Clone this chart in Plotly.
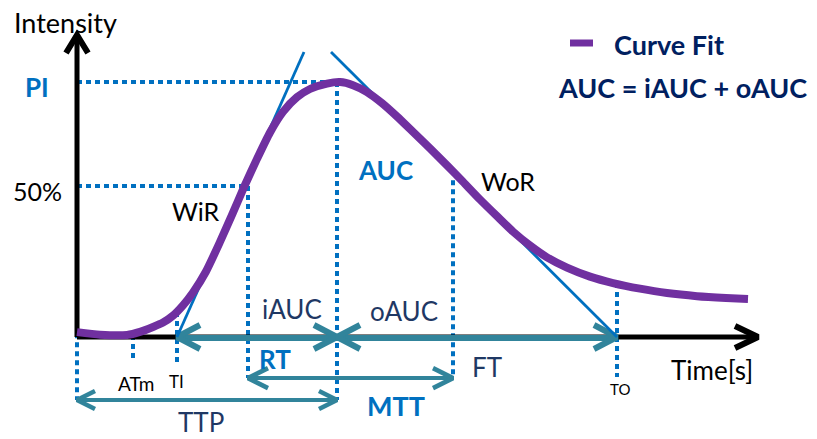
import plotly.graph_objects as go

# ---------------- data (time in s, intensity in a.u., PI ~ 100) ----------------
curve_t = [0.0, 2.3, 5.0, 6.3, 7.6, 8.6, 9.6, 10.6, 11.6, 12.9, 14.3, 15.5, 16.7, 18.0, 19.3,
           20.6, 22.0, 23.3, 25.0, 26.3, 27.6, 29.0, 30.5, 32.0, 33.6, 35.3, 37.0, 38.6, 40.3,
           42.0, 43.6, 45.3, 47.0, 49.0, 51.3, 53.6, 56.3, 59.0, 62.0, 64.9, 67.1]
curve_I = [1.9, 0.9, 0.8, 2.0, 3.9, 5.6, 8.3, 12.3, 17.3, 25.5, 37.0, 47.5, 58.3, 69.3, 79.6,
           87.6, 93.3, 96.5, 98.6, 99.2, 98.0, 95.3, 91.0, 85.8, 79.8, 73.4, 66.8, 60.4, 53.5,
           47.0, 41.0, 35.6, 31.0, 27.0, 23.5, 21.0, 18.8, 17.1, 15.9, 15.2, 14.8]

time_names = ["ATm", "TI", "T50", "TTP", "TWoR", "TO", "TEND"]
time_vals = [5.6, 10.0, 17.1, 26.0, 37.6, 54.0, 68.1]
T = dict(zip(time_names, time_vals))

int_names = ["PI", "I50", "IWoR", "ITO", "ITI", "IATm", "I0"]
int_vals = [99.2, 58.8, 61.0, 21.0, 9.7, 0.8, 1.5]
I = dict(zip(int_names, int_vals))

# tangent lines (wash-in / wash-out rate)
wir_t = [10.0, 22.7]
wir_I = [0.0, 110.9]
wor_t = [25.4, 54.0]
wor_I = [110.9, 0.0]

# levels below the time axis for the interval arrows
RT_LEVEL = -16.0
TTP_LEVEL = -24.5
TICK_LOW = {"ATm": -9.7, "TI": -10.9, "TO": -15.6}
Y_AXIS_TOP = 117.5

# ---------------- geometry helpers ----------------
W, H = 817, 439
X0, Y0 = 77, 337          # pixel position of the origin
XS, YS = 10.0, 2.57        # pixels per unit
XR = [(0 - X0) / XS, (W - X0) / XS]
YR = [(Y0 - H) / YS, Y0 / YS]


def dt(px):
    return px / XS


def dI(py):
    return py / YS


def tx(px):
    return (px - X0) / XS


def iy(py):
    return (Y0 - py) / YS


BLUE = "#0070C0"
NAVY = "#002060"
DNAVY = "#1F3864"
TEAL = "#31849B"
PURPLE = "#7030A0"
FONT = "Lato"

fig = go.Figure()


def line(xs, ys, color, width, dash=None):
    fig.add_trace(go.Scatter(x=xs, y=ys, mode="lines", hoverinfo="skip", showlegend=False,
                             line=dict(color=color, width=width, dash=dash)))


def chevron_h(tip_t, tip_i, direction, ax, ay, color, width):
    # direction +1 points right, -1 points left
    bx = tip_t - direction * dt(ax)
    line([bx, tip_t, bx], [tip_i + dI(ay), tip_i, tip_i - dI(ay)], color, width)


def chevron_v(tip_t, tip_i, ax, ay, color, width):
    line([tip_t - dt(ax), tip_t, tip_t + dt(ax)], [tip_i - dI(ay), tip_i, tip_i - dI(ay)], color, width)


DOT = "5px,4px"
DW = 4

# dotted guide lines
line([0, T["TTP"]], [I["PI"], I["PI"]], BLUE, DW, DOT)
line([0, T["T50"]], [I["I50"], I["I50"]], BLUE, DW, DOT)
line([0, 0], [I["I0"], TTP_LEVEL], BLUE, DW, DOT)
line([T["TTP"], T["TTP"]], [I["PI"], TTP_LEVEL], BLUE, DW, DOT)
line([T["T50"], T["T50"]], [I["I50"], RT_LEVEL], BLUE, DW, DOT)
line([T["TWoR"], T["TWoR"]], [I["IWoR"], TICK_LOW["TO"]], BLUE, DW, DOT)
line([T["TO"], T["TO"]], [I["ITO"], TICK_LOW["TO"]], BLUE, DW, DOT)
line([T["ATm"], T["ATm"]], [I["IATm"], TICK_LOW["ATm"]], BLUE, DW, DOT)
line([T["TI"], T["TI"]], [I["ITI"], TICK_LOW["TI"]], BLUE, DW, DOT)

# axes
line([0, T["TEND"]], [0, 0], "black", 5)
chevron_h(T["TEND"], 0, 1, 23, 11, "black", 6)
line([0, 0], [0, Y_AXIS_TOP - dI(2)], "black", 5)
chevron_v(0, Y_AXIS_TOP, 11, 18, "black", 6)

# interval arrows
line([T["TI"], T["TO"]], [-dI(1), -dI(1)], TEAL, 6)
for tip, d in [(T["TI"], -1), (T["TTP"], 1), (T["TTP"], -1), (T["TO"], 1)]:
    chevron_h(tip, 0, d, 23, 12, TEAL, 6)
line([T["T50"], T["TWoR"]], [RT_LEVEL, RT_LEVEL], TEAL, 4)
chevron_h(T["T50"], RT_LEVEL, -1, 20, 10, TEAL, 4.5)
chevron_h(T["TWoR"], RT_LEVEL, 1, 20, 10, TEAL, 4.5)
line([0, T["TTP"]], [TTP_LEVEL, TTP_LEVEL], TEAL, 4)
chevron_h(0, TTP_LEVEL, -1, 18, 9, TEAL, 4.5)
chevron_h(T["TTP"], TTP_LEVEL, 1, 18, 9, TEAL, 4.5)

# tangents
line(wir_t, wir_I, BLUE, 2.8)
line(wor_t, wor_I, BLUE, 2.8)

# fitted curve
fig.add_trace(go.Scatter(x=curve_t, y=curve_I, mode="lines", name="Curve Fit", showlegend=False,
                         hoverinfo="skip",
                         line=dict(color=PURPLE, width=8, shape="spline", smoothing=0.6)))

# ---------------- text ----------------
labels = [
    ("Intensity", 65, 22, 27, "black", False, "center"),
    ("PI", 37, 87, 26, BLUE, True, "center"),
    ("50%", 37, 191, 25, "black", False, "center"),
    ("WiR", 196, 211, 25, "black", False, "center"),
    ("AUC", 385, 170, 26, BLUE, True, "center"),
    ("WoR", 508, 181, 25, "black", False, "center"),
    ("Curve Fit", 612, 44, 27, NAVY, True, "left"),
    ("AUC = iAUC + oAUC", 682, 87, 27, NAVY, True, "center"),
    ("iAUC", 292, 309, 26, DNAVY, False, "center"),
    ("oAUC", 404, 311, 26, DNAVY, False, "center"),
    ("RT", 275, 359, 26, BLUE, True, "center"),
    ("MTT", 396, 405, 27, BLUE, True, "center"),
    ("FT", 487, 367, 26, DNAVY, False, "center"),
    ("Time[s]", 712, 370, 26, "black", False, "center"),
    ("TO", 620, 389, 15, "black", False, "center"),
    ("ATm", 136, 383, 19, "black", False, "center"),
    ("TI", 176, 381, 17, "black", False, "center"),
    ("TTP", 201, 422, 26, DNAVY, False, "center"),
]
for txt, x, y, size, color, bold, anchor in labels:
    fig.add_annotation(x=tx(x), y=iy(y), xref="x", yref="y", showarrow=False,
                       text=f"<b>{txt}</b>" if bold else txt, xanchor=anchor, yanchor="middle",
                       font=dict(family=FONT, size=size, color=color))

# legend sample line
fig.add_shape(type="line", xref="x", yref="y", x0=tx(570), x1=tx(593), y0=iy(43), y1=iy(43),
              line=dict(color=PURPLE, width=7))

fig.update_layout(
    width=W, height=H, margin=dict(l=0, r=0, t=0, b=0),
    paper_bgcolor="white", plot_bgcolor="white",
    xaxis=dict(range=XR, visible=False, fixedrange=True),
    yaxis=dict(range=YR, visible=False, fixedrange=True),
    showlegend=False,
)

fig.write_html("out.html", config={"displayModeBar": False},
               post_script="document.body.style.margin='0';document.body.style.overflow='hidden';")
